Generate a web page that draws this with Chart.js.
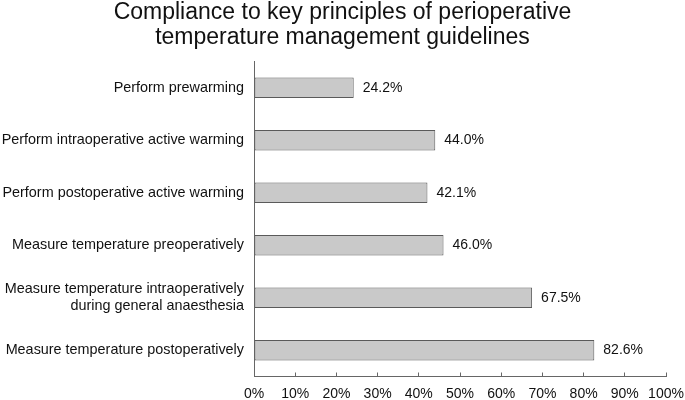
<!DOCTYPE html>
<html>
<head>
<meta charset="utf-8">
<script src="https://cdn.jsdelivr.net/npm/chart.js@4/dist/chart.umd.min.js"></script>
<style>
  html, body { margin: 0; padding: 0; background: #fff; }
  #wrap { width: 685px; height: 400px; position: relative; }
</style>
</head>
<body>
<div id="wrap"><canvas id="c" width="685" height="400"></canvas></div>
<script>
const categories = [
  "Perform prewarming",
  "Perform intraoperative active warming",
  "Perform postoperative active warming",
  "Measure temperature preoperatively",
  ["Measure temperature intraoperatively", "during general anaesthesia"],
  "Measure temperature postoperatively"
];
const compliance = [24.2, 44.0, 42.1, 46.0, 67.5, 82.6];
const titleLines = ["Compliance to key principles of perioperative", "temperature management guidelines"];

const FONT = "'Liberation Sans', Arial, sans-serif";

const valueLabels = {
  id: 'valueLabels',
  afterDatasetsDraw(chart) {
    const ctx = chart.ctx;
    const meta = chart.getDatasetMeta(0);
    const ds = chart.data.datasets[0];
    ctx.save();
    ctx.font = "14px " + FONT;
    ctx.fillStyle = "#111";
    ctx.textAlign = "left";
    ctx.textBaseline = "middle";
    meta.data.forEach((bar, i) => {
      ctx.fillText(ds.data[i].toFixed(1) + "%", bar.x + 9, bar.y);
    });
    ctx.restore();
  }
};

new Chart(document.getElementById('c'), {
  type: 'bar',
  data: {
    labels: categories,
    datasets: [{
      data: compliance,
      backgroundColor: '#c9c9c9',
      borderColor: '#5a5a5a',
      borderWidth: 1,
      borderSkipped: false,
      barPercentage: 0.39,
      categoryPercentage: 1.0
    }]
  },
  options: {
    indexAxis: 'y',
    responsive: false,
    animation: false,
    devicePixelRatio: 1,
    layout: { padding: 0 },
    plugins: {
      legend: { display: false },
      tooltip: { enabled: false },
      title: {
        display: true,
        text: titleLines,
        color: '#111',
        font: { family: FONT, size: 23, weight: 'normal', lineHeight: 1.087 },
        padding: { top: 0.5, bottom: 11 }
      }
    },
    scales: {
      x: {
        min: 0,
        max: 100,
        ticks: {
          stepSize: 10,
          callback: v => v + '%',
          color: '#111',
          font: { family: FONT, size: 14 },
          padding: 13,
          maxRotation: 0
        },
        grid: {
          display: true,
          drawOnChartArea: false,
          drawTicks: true,
          tickLength: -4,
          color: '#666'
        },
        border: { display: true, color: '#666', width: 1 },
        afterFit(scale) {
          scale.height = 23.5;
          scale.paddingRight = 19;
          scale.paddingLeft = 0;
        }
      },
      y: {
        ticks: {
          color: '#111',
          font: { family: FONT, size: 14.4, lineHeight: 1.15 },
          padding: 10
        },
        grid: { display: false, drawTicks: false },
        border: { display: true, color: '#666', width: 1 },
        afterFit(scale) { scale.width = 254; }
      }
    }
  },
  plugins: [valueLabels]
});
</script>
</body>
</html>
